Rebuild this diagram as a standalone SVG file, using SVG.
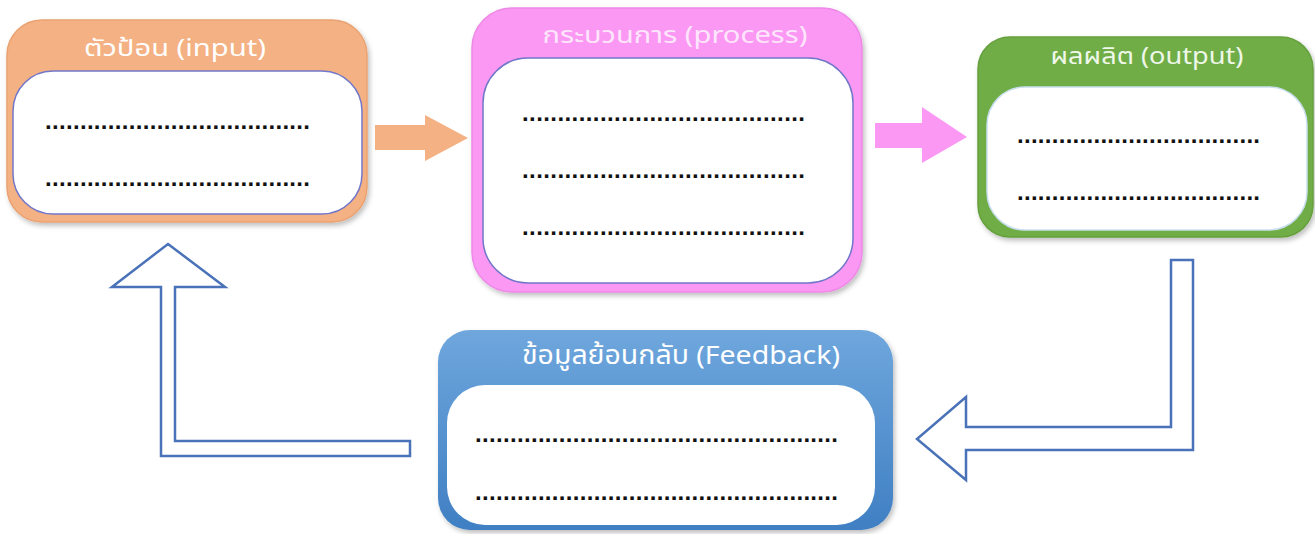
<svg xmlns="http://www.w3.org/2000/svg" width="1315" height="534" viewBox="0 0 1315 534">
<defs>
<style>
.title{font-family:"Noto Sans Thai","Noto Sans","DejaVu Sans",sans-serif;fill:#ffffff;text-anchor:middle}
.dots{font-family:"Liberation Sans",sans-serif;font-weight:bold;font-size:24px;fill:#111}
.inner{fill:#ffffff;stroke:#7177c9;stroke-width:1.5}
.hollow{fill:#ffffff;stroke:#4a72b8;stroke-width:2.5;stroke-linejoin:miter}
</style>
<linearGradient id="gBlue" x1="0" y1="0" x2="0" y2="1">
<stop offset="0" stop-color="#6fa7dd"/>
<stop offset="1" stop-color="#3f7fc3"/>
</linearGradient>
<filter id="sh" x="-5%" y="-5%" width="115%" height="120%">
<feDropShadow dx="2" dy="3" stdDeviation="2.5" flood-color="#000" flood-opacity="0.25"/>
</filter>
</defs>
<rect width="1315" height="534" fill="#ffffff"/>

<g id="connectors">
<polygon points="375,125 425,125 425,115 468,138 425,161 425,150 375,150" fill="#f4b183"/>
<polygon points="875,123 922,123 922,107 967,137 922,163 922,148 875,148" fill="#fa98f4"/>
<polygon class="hollow" points="1171,260 1193,260 1193,450 966,450 966,480 917,439 966,397 966,427 1171,427"/>
<polygon class="hollow" points="168,244 225,287 175,287 175,441 410,441 410,456 161,456 161,287 112,287"/>
</g>

<g id="input">
<rect x="7" y="20" width="360" height="202" rx="35" fill="#f4b183" stroke="#eaa272" stroke-width="1.5" filter="url(#sh)"/>
<rect class="inner" x="13" y="71" width="349" height="143" rx="40"/>
<text class="title" x="175" y="56" font-size="23" fill="#fdf0e6" textLength="182" lengthAdjust="spacingAndGlyphs">ตัวป้อน (input)</text>
<text class="dots" x="45" y="129" textLength="265" lengthAdjust="spacing">......................................</text>
<text class="dots" x="45" y="186" textLength="265" lengthAdjust="spacing">......................................</text>
</g>

<g id="process">
<rect x="472" y="8" width="390" height="284" rx="40" fill="#fa98f4" stroke="#ee88e6" stroke-width="1.5" filter="url(#sh)"/>
<rect class="inner" x="483" y="58" width="370" height="225" rx="45"/>
<text class="title" x="675" y="43" font-size="23" textLength="265" lengthAdjust="spacingAndGlyphs" style="fill:#fde6fb">กระบวนการ (process)</text>
<text class="dots" x="522" y="121" textLength="283" lengthAdjust="spacing">........................................</text>
<text class="dots" x="522" y="178" textLength="283" lengthAdjust="spacing">........................................</text>
<text class="dots" x="522" y="235" textLength="283" lengthAdjust="spacing">........................................</text>
</g>

<g id="output">
<rect x="978" y="37" width="335" height="200" rx="32" fill="#70ad47" stroke="#65a03d" stroke-width="1.5" filter="url(#sh)"/>
<rect x="987" y="87" width="320" height="143" rx="38" fill="#ffffff" stroke="#c9dff0" stroke-width="1.5"/>
<text class="title" x="1147" y="64" font-size="23" textLength="193" lengthAdjust="spacingAndGlyphs" style="fill:#eef7e8">ผลผลิต (output)</text>
<text class="dots" x="1017" y="143" textLength="243" lengthAdjust="spacing">...................................</text>
<text class="dots" x="1017" y="200" textLength="243" lengthAdjust="spacing">...................................</text>
</g>

<g id="feedback">
<rect x="438" y="330" width="455" height="200" rx="32" fill="url(#gBlue)" filter="url(#sh)"/>
<rect x="447" y="385" width="428" height="140" rx="38" fill="#ffffff"/>
<text class="title" x="681" y="364" font-size="26" textLength="318" lengthAdjust="spacingAndGlyphs">ข้อมูลย้อนกลับ (Feedback)</text>
<text class="dots" x="475" y="442" textLength="363" lengthAdjust="spacing">....................................................</text>
<text class="dots" x="475" y="500" textLength="363" lengthAdjust="spacing">....................................................</text>
</g>
</svg>
